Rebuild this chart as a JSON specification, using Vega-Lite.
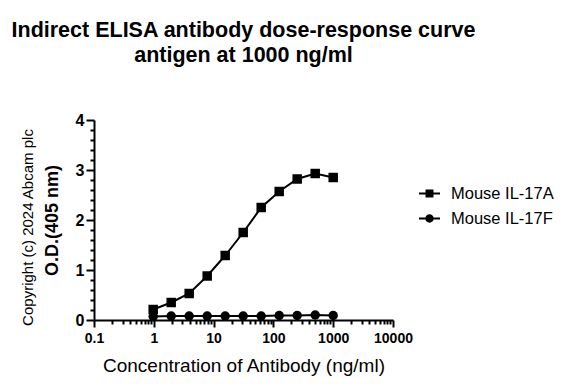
{
  "$schema": "https://vega.github.io/schema/vega-lite/v6.json",
  "width": 299,
  "height": 200,
  "autosize": {"type": "none"},
  "padding": {"left": 94, "top": 120, "right": 176, "bottom": 71},
  "background": "white",
  "config": {
    "font": "Liberation Sans",
    "view": {"stroke": null},
    "axis": {"domainColor": "black", "tickColor": "black", "labelColor": "black", "titleColor": "black", "domainWidth": 2, "tickWidth": 2, "grid": false}
  },
  "title": {
    "text": ["Indirect ELISA antibody dose-response curve", "antigen at 1000 ng/ml"],
    "fontSize": 21.5, "fontWeight": "bold", "lineHeight": 24.5, "offset": 46, "color": "black", "anchor": "middle"
  },
  "data": {
    "values": [
      {"series": "Mouse IL-17A", "conc": 0.977, "od": 0.21},
      {"series": "Mouse IL-17A", "conc": 1.953, "od": 0.35},
      {"series": "Mouse IL-17A", "conc": 3.906, "od": 0.53},
      {"series": "Mouse IL-17A", "conc": 7.8125, "od": 0.88},
      {"series": "Mouse IL-17A", "conc": 15.625, "od": 1.29},
      {"series": "Mouse IL-17A", "conc": 31.25, "od": 1.75},
      {"series": "Mouse IL-17A", "conc": 62.5, "od": 2.25},
      {"series": "Mouse IL-17A", "conc": 125, "od": 2.57},
      {"series": "Mouse IL-17A", "conc": 250, "od": 2.82},
      {"series": "Mouse IL-17A", "conc": 500, "od": 2.93},
      {"series": "Mouse IL-17A", "conc": 1000, "od": 2.85},
      {"series": "Mouse IL-17F", "conc": 0.977, "od": 0.07},
      {"series": "Mouse IL-17F", "conc": 1.953, "od": 0.08},
      {"series": "Mouse IL-17F", "conc": 3.906, "od": 0.08},
      {"series": "Mouse IL-17F", "conc": 7.8125, "od": 0.08},
      {"series": "Mouse IL-17F", "conc": 15.625, "od": 0.08},
      {"series": "Mouse IL-17F", "conc": 31.25, "od": 0.08},
      {"series": "Mouse IL-17F", "conc": 62.5, "od": 0.08},
      {"series": "Mouse IL-17F", "conc": 125, "od": 0.09},
      {"series": "Mouse IL-17F", "conc": 250, "od": 0.09},
      {"series": "Mouse IL-17F", "conc": 500, "od": 0.1},
      {"series": "Mouse IL-17F", "conc": 1000, "od": 0.09}
    ]
  },
  "resolve": {"axis": {"x": "independent", "y": "independent"}, "scale": {"shape": "independent"}},
  "layer": [
    {
      "mark": {"type": "line", "color": "black", "strokeWidth": 2},
      "encoding": {
        "x": {"field": "conc", "type": "quantitative",
          "scale": {"type": "log", "domain": [0.1, 10000]},
          "axis": {"orient": "bottom", "values": [0.1, 1, 10, 100, 1000, 10000], "format": "~g", "title": "Concentration of Antibody (ng/ml)",
            "labelFontSize": 14, "labelFontWeight": "bold", "tickSize": 7, "labelPadding": 4, "labelFlush": false,
            "titleFontSize": 19, "titleFontWeight": "normal", "titlePadding": 11}},
        "y": {"field": "od", "type": "quantitative",
          "scale": {"domain": [0, 4], "nice": false},
          "axis": {"orient": "left", "values": [0, 1, 2, 3, 4], "title": "O.D.(405 nm)",
            "labelFontSize": 16, "labelFontWeight": "bold", "tickSize": 8, "labelPadding": 2,
            "titleFontSize": 18, "titleFontWeight": "bold", "titlePadding": 14}},
        "detail": {"field": "series"}
      }
    },
    {
      "mark": {"type": "point", "filled": true, "color": "black", "opacity": 1, "size": 90},
      "encoding": {
        "x": {"field": "conc", "type": "quantitative",
          "axis": {"orient": "bottom", "values": [0.2,0.3,0.4,0.5,0.6,0.7,0.8,0.9,2,3,4,5,6,7,8,9,20,30,40,50,60,70,80,90,200,300,400,500,600,700,800,900,2000,3000,4000,5000,6000,7000,8000,9000],
            "labels": false, "domain": false, "tickSize": 4, "title": null}},
        "y": {"field": "od", "type": "quantitative",
          "axis": {"orient": "left", "values": [0.2,0.4,0.6,0.8,1.2,1.4,1.6,1.8,2.2,2.4,2.6,2.8,3.2,3.4,3.6,3.8],
            "labels": false, "domain": false, "tickSize": 4, "title": "Copyright (c) 2024 Abcam plc",
            "titleFontSize": 15, "titleFontWeight": "normal", "titlePadding": 54, "titleY": 107}},
        "shape": {"field": "series", "type": "nominal", "scale": {"domain": ["Mouse IL-17A", "Mouse IL-17F"], "range": ["square", "circle"]}, "legend": null}
      }
    },
    {
      "mark": {"type": "point", "filled": true, "color": "black", "opacity": 0},
      "encoding": {
        "x": {"field": "conc", "type": "quantitative", "axis": null},
        "y": {"field": "od", "type": "quantitative", "axis": null},
        "shape": {"field": "series", "type": "nominal",
          "scale": {"domain": ["Mouse IL-17A", "Mouse IL-17F"],
            "range": ["M-1,-0.09H1V0.09H-1Z M-0.38,-0.38H0.38V0.38H-0.38Z", "M-1,-0.09H1V0.09H-1Z M-0.4,0A0.4,0.4 0 1,1 0.4,0A0.4,0.4 0 1,1 -0.4,0Z"]},
          "legend": {"title": null, "orient": "none", "legendX": 325, "legendY": 63, "symbolSize": 441, "symbolOpacity": 1,
            "symbolFillColor": "black", "symbolStrokeColor": "black", "symbolStrokeWidth": 0,
            "labelFontSize": 16.5, "labelOffset": 11, "rowPadding": 6, "padding": 0, "labelColor": "black"}}
      }
    }
  ]
}
